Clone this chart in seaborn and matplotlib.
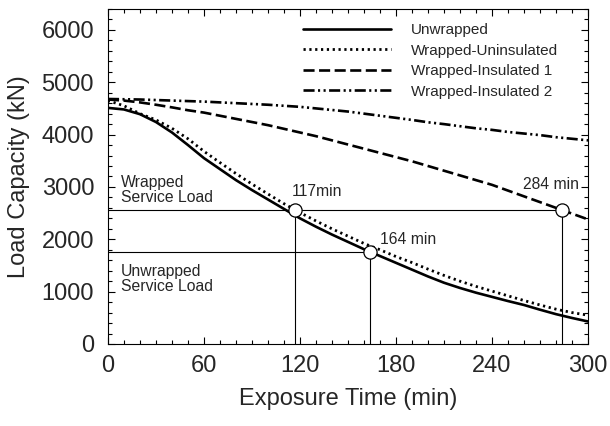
import matplotlib
matplotlib.use("Agg")
import matplotlib.pyplot as plt
from matplotlib.ticker import MultipleLocator
import numpy as np
import pandas as pd
import seaborn as sns

# Exposure time (min) and load capacity (kN) for each column configuration
time_min = [0, 10, 20, 30, 40, 50, 60, 70, 80, 90, 100, 110, 120, 130, 140, 150,
            160, 170, 180, 190, 200, 210, 220, 230, 240, 250, 260, 270, 280, 290, 300]
unwrapped = [4510, 4480, 4390, 4240, 4040, 3800, 3550, 3340, 3130, 2940, 2760, 2580,
             2400, 2240, 2090, 1950, 1810, 1680, 1550, 1420, 1290, 1170, 1070, 980,
             900, 820, 745, 655, 570, 497, 430]
wrapped_uninsulated = [4650, 4550, 4400, 4280, 4120, 3920, 3680, 3465, 3255, 3055, 2865,
                       2680, 2510, 2350, 2200, 2060, 1920, 1800, 1670, 1555, 1430, 1310,
                       1200, 1100, 1010, 920, 830, 745, 665, 600, 550]
wrapped_insulated_1 = [4670, 4650, 4615, 4570, 4520, 4465, 4420, 4360, 4300, 4240, 4180,
                       4110, 4040, 3970, 3890, 3810, 3730, 3650, 3570, 3490, 3400, 3310,
                       3220, 3130, 3040, 2930, 2820, 2710, 2600, 2490, 2380]
wrapped_insulated_2 = [4680, 4675, 4670, 4660, 4650, 4640, 4630, 4615, 4600, 4585, 4570,
                       4550, 4530, 4500, 4470, 4440, 4400, 4360, 4320, 4280, 4235, 4200,
                       4160, 4120, 4090, 4050, 4020, 3990, 3950, 3920, 3890]

series_names = ["Unwrapped", "Wrapped-Uninsulated", "Wrapped-Insulated 1", "Wrapped-Insulated 2"]
series_values = [unwrapped, wrapped_uninsulated, wrapped_insulated_1, wrapped_insulated_2]

# Service loads and the fire-resistance times where the curves reach them
wrapped_service_load = 2560
unwrapped_service_load = 1750
fire_times = [117, 164, 284]
fire_loads = [wrapped_service_load, unwrapped_service_load, wrapped_service_load]
fire_labels = ["117min", "164 min", "284 min"]

df = pd.DataFrame({
    "time": np.tile(time_min, len(series_names)),
    "load": np.concatenate(series_values),
    "series": np.repeat(series_names, len(time_min)),
})

sns.set_style("ticks")
plt.rcParams["font.family"] = ["Liberation Sans", "DejaVu Sans"]

fig = plt.figure(figsize=(6.10, 4.26), dpi=100)
ax = fig.add_axes([0.177, 0.1925, 0.787, 0.7865])

styles = {
    "Unwrapped": dict(linestyle="-", lw=1.9),
    "Wrapped-Uninsulated": dict(linestyle=(0, (0.8, 1.3)), lw=2.0),
    "Wrapped-Insulated 1": dict(linestyle=(0, (4.2, 1.7)), lw=1.9),
    "Wrapped-Insulated 2": dict(linestyle=(0, (4.2, 1.3, 0.8, 1.3, 0.8, 1.3)), lw=1.9),
}
for name in series_names:
    sns.lineplot(data=df[df["series"] == name], x="time", y="load", ax=ax,
                 color="black", label=name, **styles[name])

# Service-load reference lines
ax.plot([0, fire_times[2]], [wrapped_service_load] * 2, color="black", lw=0.8, zorder=1)
ax.plot([0, fire_times[1]], [unwrapped_service_load] * 2, color="black", lw=0.8, zorder=1)
for t, load in zip(fire_times, fire_loads):
    ax.plot([t, t], [0, load], color="black", lw=0.8, zorder=1)
ax.plot(fire_times, fire_loads, linestyle="none", marker="o", markersize=9.5,
        markerfacecolor="white", markeredgecolor="black", markeredgewidth=0.9, zorder=5)

note_size = 11.3
ax.text(115, 2830, fire_labels[0], fontsize=note_size, ha="left", va="baseline")
ax.text(170, 1910, fire_labels[1], fontsize=note_size, ha="left", va="baseline")
ax.text(294.5, 2960, fire_labels[2], fontsize=note_size, ha="right", va="baseline")
ax.text(8, 2660, "Wrapped\nService Load", fontsize=note_size, ha="left", va="bottom",
        linespacing=1.0)
ax.text(8, 950, "Unwrapped\nService Load", fontsize=note_size, ha="left", va="bottom",
        linespacing=1.0)

ax.set_xlim(0, 300)
ax.set_ylim(0, 6400)
ax.xaxis.set_major_locator(MultipleLocator(60))
ax.xaxis.set_minor_locator(MultipleLocator(10))
ax.yaxis.set_major_locator(MultipleLocator(1000))
ax.yaxis.set_minor_locator(MultipleLocator(200))
ax.tick_params(which="both", direction="in", top=True, right=True, labelsize=17,
               width=0.8, color="black", pad=8)
ax.tick_params(axis="y", which="both", pad=10)
ax.tick_params(which="major", length=5)
ax.tick_params(which="minor", length=3)
for side in ax.spines.values():
    side.set_linewidth(0.8)
    side.set_color("black")

ax.set_xlabel("Exposure Time (min)", fontsize=17, labelpad=8)
ax.set_ylabel("Load Capacity (kN)", fontsize=17, labelpad=8)

leg = ax.legend(loc="upper left", frameon=False, fontsize=11, handlelength=5.8,
                handletextpad=1.3, labelspacing=0.42, borderpad=0, borderaxespad=0,
                bbox_to_anchor=(0.406, 0.957))

fig.savefig("out.png", dpi=100)
